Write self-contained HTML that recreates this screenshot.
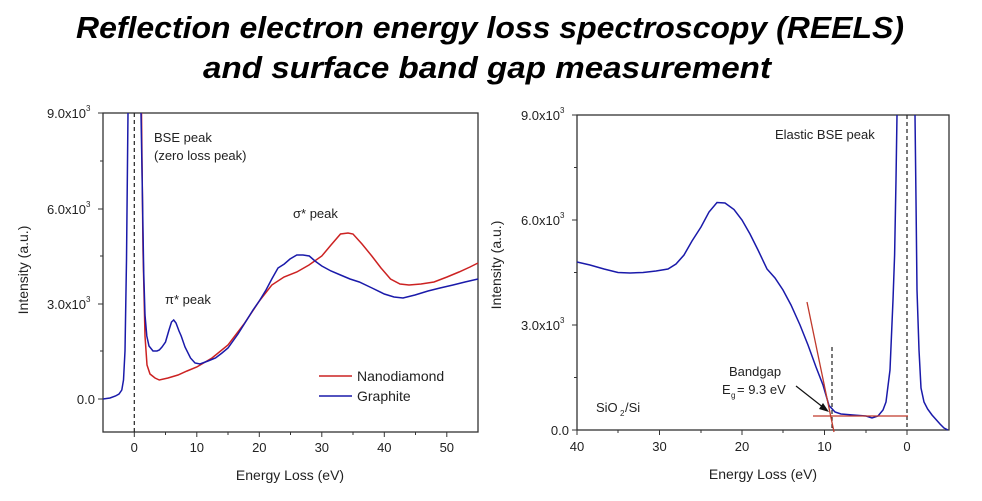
<!DOCTYPE html>
<html><head><meta charset="utf-8"><style>
html,body{margin:0;padding:0;background:#fff;}
svg{display:block;font-family:"Liberation Sans",Arial,sans-serif;}
</style></head><body>
<svg width="982" height="501" viewBox="0 0 982 501" xmlns="http://www.w3.org/2000/svg">
<rect width="982" height="501" fill="#fff"/>
<g font-weight="bold" font-style="italic" font-size="31" fill="#000" text-anchor="middle">
<text x="490" y="38" textLength="828" lengthAdjust="spacingAndGlyphs">Reflection electron energy loss spectroscopy (REELS)</text>
<text x="487" y="78" textLength="568" lengthAdjust="spacingAndGlyphs">and surface band gap measurement</text>
</g>

<!-- LEFT PLOT -->
<rect x="103" y="113" width="375" height="319" fill="none" stroke="#333" stroke-width="1.3"/>
<g stroke="#333" stroke-width="1">
<line x1="103" y1="399" x2="98" y2="399"/><line x1="103" y1="304" x2="98" y2="304"/><line x1="103" y1="209" x2="98" y2="209"/><line x1="103" y1="113" x2="98" y2="113"/>
<line x1="103" y1="351" x2="100" y2="351"/><line x1="103" y1="256" x2="100" y2="256"/><line x1="103" y1="161" x2="100" y2="161"/>
<line x1="134.3" y1="432" x2="134.3" y2="437"/><line x1="196.8" y1="432" x2="196.8" y2="437"/><line x1="259.3" y1="432" x2="259.3" y2="437"/><line x1="321.8" y1="432" x2="321.8" y2="437"/><line x1="384.3" y1="432" x2="384.3" y2="437"/><line x1="446.8" y1="432" x2="446.8" y2="437"/>
<line x1="165.5" y1="432" x2="165.5" y2="435"/><line x1="228" y1="432" x2="228" y2="435"/><line x1="290.5" y1="432" x2="290.5" y2="435"/><line x1="353" y1="432" x2="353" y2="435"/><line x1="415.5" y1="432" x2="415.5" y2="435"/>
</g>
<g font-size="13" fill="#222" text-anchor="end">
<text x="95" y="404">0.0</text>
<text x="86" y="309">3.0x10</text><text x="86" y="214">6.0x10</text><text x="86" y="118">9.0x10</text>
</g>
<g font-size="8" fill="#222"><text x="86" y="302">3</text><text x="86" y="207">3</text><text x="86" y="111">3</text></g>
<g font-size="13" fill="#222" text-anchor="middle">
<text x="134.3" y="452">0</text><text x="196.8" y="452">10</text><text x="259.3" y="452">20</text><text x="321.8" y="452">30</text><text x="384.3" y="452">40</text><text x="446.8" y="452">50</text>
<text x="290" y="480" font-size="14">Energy Loss (eV)</text>
<text transform="translate(28,270) rotate(-90)" font-size="14">Intensity (a.u.)</text>
</g>
<line x1="134.3" y1="113" x2="134.3" y2="432" stroke="#222" stroke-width="1.2" stroke-dasharray="4,3"/>
<polyline fill="none" stroke="#cc2222" stroke-width="1.5" points="141.5,113 143,250 145,336 147,365 150,374 155,378 159.3,380 168,378 178,375 187,371 196.8,367 212,358 228,345 244,324 259.3,301 271.8,285 284,277 296.8,272 309,265 321.8,256 331,245 340.5,234 348,233 353,234 362,244 371.8,256 381,268 390.5,279 400,284 409,285 421,284 434,282 447,277 459,272 470,267 478,263"/>
<polyline fill="none" stroke="#1a1aaa" stroke-width="1.5" points="103,399 110,398 115.5,396 119,394 121.8,390 123.5,380 125,351 126.5,260 128,113"/>
<polyline fill="none" stroke="#1a1aaa" stroke-width="1.5" points="141,113 142.5,200 143.7,272 145,315 146.8,336 149,346 153,351 157,351 159.3,350 162,347 165.5,342 169,330 171.5,322 173.7,320 176,323 179,331 181.2,336 185,347 190.5,358 195,363 200,364 208,361 215.5,358 222,353 228,348 238,334 246.8,320 253,310 259.3,301 266,290 271.8,279 278,268 284.3,264 290,259 296.8,255 303,255 309.3,256 315,261 321.8,266 331,271 340.5,275 350,279 359.3,282 372,288 384.3,294 394,297 403,298 415,295 428,291 440,288 453,285 465,282 478,279"/>
<line x1="319" y1="376" x2="352" y2="376" stroke="#cc2222" stroke-width="1.5"/>
<line x1="319" y1="396" x2="352" y2="396" stroke="#1a1aaa" stroke-width="1.5"/>
<g font-size="14" fill="#222"><text x="357" y="381">Nanodiamond</text><text x="357" y="401">Graphite</text></g>
<g font-size="13" fill="#222">
<text x="154" y="142">BSE peak</text><text x="154" y="160">(zero loss peak)</text>
<text x="293" y="218">σ* peak</text>
<text x="165" y="304">π* peak</text>
</g>

<!-- RIGHT PLOT -->
<rect x="577" y="115" width="372" height="315" fill="none" stroke="#333" stroke-width="1.3"/>
<g stroke="#333" stroke-width="1">
<line x1="577" y1="430" x2="572" y2="430"/><line x1="577" y1="325" x2="572" y2="325"/><line x1="577" y1="220" x2="572" y2="220"/><line x1="577" y1="115" x2="572" y2="115"/>
<line x1="577" y1="377.5" x2="574" y2="377.5"/><line x1="577" y1="272.5" x2="574" y2="272.5"/><line x1="577" y1="167.5" x2="574" y2="167.5"/>
<line x1="577" y1="430" x2="577" y2="435"/><line x1="659.5" y1="430" x2="659.5" y2="435"/><line x1="742" y1="430" x2="742" y2="435"/><line x1="824.5" y1="430" x2="824.5" y2="435"/><line x1="907" y1="430" x2="907" y2="435"/>
<line x1="618" y1="430" x2="618" y2="433"/><line x1="701" y1="430" x2="701" y2="433"/><line x1="783" y1="430" x2="783" y2="433"/><line x1="866" y1="430" x2="866" y2="433"/>
</g>
<g font-size="13" fill="#222" text-anchor="end">
<text x="569" y="435">0.0</text>
<text x="560" y="330">3.0x10</text><text x="560" y="225">6.0x10</text><text x="560" y="120">9.0x10</text>
</g>
<g font-size="8" fill="#222"><text x="560" y="323">3</text><text x="560" y="218">3</text><text x="560" y="113">3</text></g>
<g font-size="13" fill="#222" text-anchor="middle">
<text x="577" y="451">40</text><text x="659.5" y="451">30</text><text x="742" y="451">20</text><text x="824.5" y="451">10</text><text x="907" y="451">0</text>
<text x="763" y="479" font-size="14">Energy Loss (eV)</text>
<text transform="translate(501,265) rotate(-90)" font-size="14">Intensity (a.u.)</text>
</g>
<line x1="907" y1="115" x2="907" y2="430" stroke="#222" stroke-width="1.2" stroke-dasharray="4,3"/>
<line x1="832" y1="347" x2="832" y2="430" stroke="#222" stroke-width="1.2" stroke-dasharray="4,3"/>
<polyline fill="none" stroke="#1a1aaa" stroke-width="1.5" points="577,262 590,265 604,269 618,272.5 630,273 643,272.5 656,271 668,269 676,264 684,255 692,241 701,227 709,212 717,202.5 725,203 734,209.5 742,220 750,234 758,250 767,269 775,278 783,290 791,305 800,325 808,345 816,367 823,385 829,405.5 835,412 841,414 853,415 866,416 872,418 878,416 883,410 886,402 890,370 893,300 894.6,255 896,180 897,115"/>
<polyline fill="none" stroke="#1a1aaa" stroke-width="1.5" points="915,115 916,200 917,290 919,350 921,388 924,402 927.6,409 932,415 936,419.5 940,424 944,428 948,430"/>
<line x1="807" y1="302" x2="834" y2="432" stroke="#c0392b" stroke-width="1.3"/>
<line x1="813" y1="416" x2="908" y2="416" stroke="#c0392b" stroke-width="1.3"/>
<line x1="796" y1="386" x2="824" y2="408" stroke="#111" stroke-width="1.2"/>
<polygon points="829,412 819,409 823,403" fill="#111"/>
<g font-size="13" fill="#222">
<text x="775" y="139">Elastic BSE peak</text>
<text x="729" y="376">Bandgap</text>
<text x="722" y="394">E</text><text x="731" y="398" font-size="8">g</text><text x="737" y="394">= 9.3 eV</text>
<text x="596" y="412">SiO</text><text x="620" y="416" font-size="8">2</text><text x="625" y="412">/Si</text>
</g>
</svg>
</body></html>
